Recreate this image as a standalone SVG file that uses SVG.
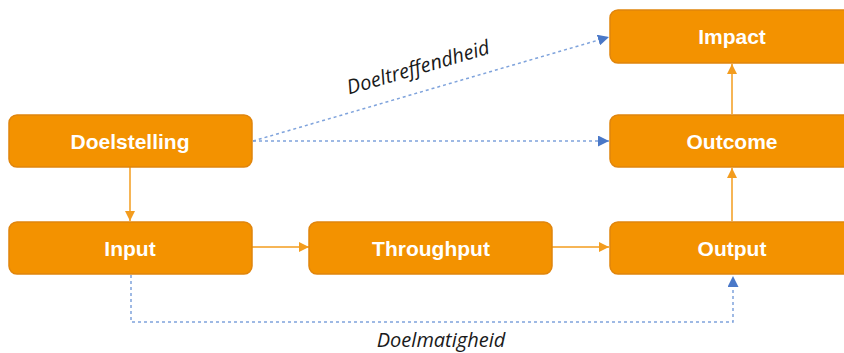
<svg xmlns="http://www.w3.org/2000/svg" width="844" height="353" viewBox="0 0 844 353">
<style>
.box{fill:#F39200;stroke:#E0850C;stroke-width:1.5}
.lbl{font-family:"Liberation Sans",Arial,sans-serif;font-weight:bold;font-size:21px;fill:#FFFFFF;text-anchor:middle}
.solid{fill:none;stroke:#F39C1E;stroke-width:1.5}
.dash{fill:none;stroke:#7FA3DC;stroke-width:1.5;stroke-dasharray:3 3}
.it{font-family:"Open Sans","Liberation Sans",sans-serif;font-style:italic;font-size:20px;fill:#1A1A1A;text-anchor:middle}
</style>
<defs>
<marker id="ao" viewBox="0 0 10 10" refX="10" refY="5" markerWidth="10" markerHeight="10" markerUnits="userSpaceOnUse" orient="auto"><path d="M0,0L10,5L0,10z" fill="#F39C1E"/></marker>
<marker id="ab" viewBox="0 0 10 10" refX="10" refY="5" markerWidth="11" markerHeight="11" markerUnits="userSpaceOnUse" orient="auto"><path d="M0,0L10,5L0,10z" fill="#4A78C8"/></marker>
</defs>
<rect width="844" height="353" fill="#FFFFFF"/>
<g id="connectors">
<line class="solid" x1="130" y1="167" x2="130" y2="221" marker-end="url(#ao)"/>
<line class="solid" x1="252" y1="247" x2="309" y2="247" marker-end="url(#ao)"/>
<line class="solid" x1="552" y1="247" x2="609" y2="247" marker-end="url(#ao)"/>
<line class="solid" x1="732" y1="221" x2="732" y2="168" marker-end="url(#ao)"/>
<line class="solid" x1="732" y1="114" x2="732" y2="64" marker-end="url(#ao)"/>
<line class="dash" x1="253" y1="141" x2="609" y2="37" marker-end="url(#ab)"/>
<line class="dash" x1="253" y1="141" x2="609" y2="141" marker-end="url(#ab)"/>
<polyline class="dash" points="131,275 131,322 733,322 733,276" marker-end="url(#ab)"/>
<text class="it" transform="translate(420,74) rotate(-16.2)">Doeltreffendheid</text>
<text class="it" x="441" y="347">Doelmatigheid</text>
</g>
<g id="doelstelling"><rect class="box" x="9" y="115" width="243" height="52" rx="8"/><text class="lbl" x="130" y="148.5">Doelstelling</text></g>
<g id="input"><rect class="box" x="9" y="222" width="243" height="52" rx="8"/><text class="lbl" x="130" y="255.5">Input</text></g>
<g id="throughput"><rect class="box" x="309" y="222" width="243" height="52" rx="8"/><text class="lbl" x="431" y="255.5">Throughput</text></g>
<g id="output"><rect class="box" x="610" y="222" width="244" height="52" rx="8"/><text class="lbl" x="732" y="255.5">Output</text></g>
<g id="outcome"><rect class="box" x="610" y="115" width="244" height="52" rx="8"/><text class="lbl" x="732" y="148.5">Outcome</text></g>
<g id="impact"><rect class="box" x="610" y="10" width="244" height="53" rx="8"/><text class="lbl" x="732" y="43.5">Impact</text></g>
</svg>
